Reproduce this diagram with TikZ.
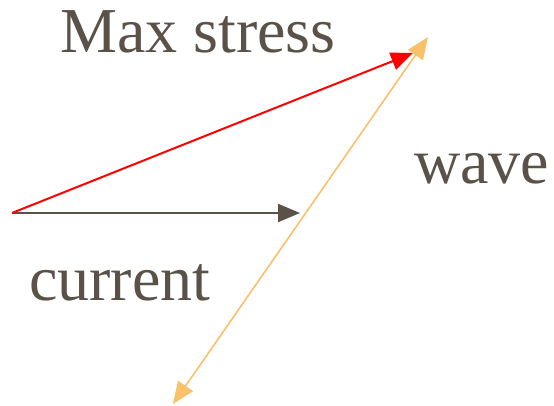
\documentclass[tikz,border=0pt]{standalone}
\usepackage{fontspec}
\setmainfont{Liberation Serif}
\usepackage{tikz}
\usetikzlibrary{arrows.meta}
\definecolor{ink}{HTML}{5A5248}
\definecolor{wavecol}{HTML}{FBC06A}

\begin{document}
\begin{tikzpicture}[x=1pt, y=-1pt,
    vec/.style={line width=2pt, -{Triangle[length=22pt, width=18pt]}},
    dvec/.style={line width=1.6pt, {Triangle[length=22pt, width=18pt]}-{Triangle[length=22pt, width=18pt]}},
    lbl/.style={anchor=base west, inner sep=0pt, text=ink, font=\fontsize{64}{70}\selectfont}]
            \useasboundingbox[fill=white] (0,0) rectangle (554,405);
            \coordinate (O) at (12,213);
            \coordinate (C) at (300,213);
            \coordinate (M) at (413,53);
            \coordinate (W1) at (428,37);
            \coordinate (W2) at (173,404);
            \draw[vec, ink] (O) -- (C);
            \draw[vec, red] (O) -- (M);
            \draw[dvec, wavecol] (W2) -- (W1);
            \node[lbl] (maxlbl) at (60,52) {Max stress};
            \node[lbl] (wavelbl) at (414,183) {wave};
            \node[lbl] (curlbl) at (29,300) {current};
        \end{tikzpicture}
\end{document}
